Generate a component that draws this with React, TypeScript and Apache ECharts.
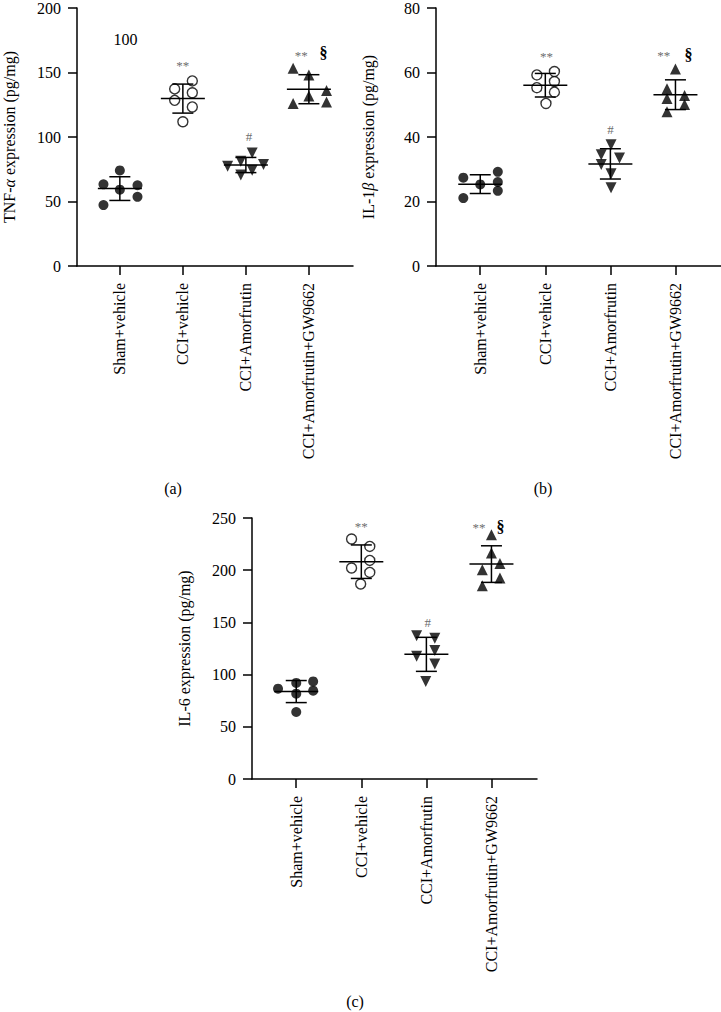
import React, { useEffect, useRef } from "react";
import * as echarts from "echarts";

const categories = ["Sham+vehicle", "CCI+vehicle", "CCI+Amorfrutin", "CCI+Amorfrutin+GW9662"];

// Panel (a) TNF-α: values and horizontal jitter (category units)
const tnfValues = [
  [74.1, 63.3, 59.2, 62.6, 53.6, 47.2],
  [143.5, 137.3, 134.3, 128.4, 123.3, 111.8],
  [87.6, 81.2, 78.7, 77.4, 74.3, 70.5],
  [153.2, 148.1, 136.1, 131.8, 125.9, 127.2],
];
const tnfJitter = [
  [0, -0.26, 0, 0.28, 0.28, -0.26],
  [0.15, -0.13, 0.15, -0.13, 0.15, 0],
  [0.1, -0.08, 0.28, -0.29, 0.1, -0.08],
  [-0.25, 0, 0.28, 0, -0.25, 0.28],
];
// Panel (b) IL-1β
const il1Values = [
  [27.4, 25.3, 29.2, 26.05, 23.3, 21.05],
  [59.25, 60.3, 55.3, 57.2, 53.9, 50.4],
  [37.6, 34.5, 33.5, 31.5, 28.6, 24.3],
  [61.1, 54.95, 52.9, 51.9, 50.05, 47.8],
];
const il1Jitter = [
  [-0.26, 0, 0.27, 0.27, 0.27, -0.26],
  [-0.13, 0.14, -0.13, 0.14, 0.14, 0.01],
  [0.01, -0.14, 0.14, -0.14, 0.01, 0.01],
  [0, -0.13, 0.14, -0.13, 0.14, -0.13],
];
// Panel (c) IL-6
const il6Values = [
  [86.5, 92, 93.5, 81.7, 84.6, 64.2],
  [229.9, 222.8, 209.4, 202.1, 197.9, 186.8],
  [137.3, 134.7, 123.2, 117.5, 110.2, 93.5],
  [234, 216.5, 206.3, 200.5, 192.6, 185.2],
];
const il6Jitter = [
  [-0.28, 0, 0.26, 0, 0.26, 0],
  [-0.15, 0.13, 0.13, -0.15, 0.13, -0.01],
  [-0.15, 0.13, 0.13, -0.15, 0.13, -0.01],
  [0, 0, 0.13, -0.14, 0.13, -0.14],
];

// Significance annotations: [x (category units), y (data units), text]
const tnfMarks: [number, number, string][] = [
  [0.09, 175.4, "100"],
  [1.0, 155.5, "**"],
  [2.05, 100.3, "#"],
  [2.88, 163.2, "**"],
  [3.23, 165.5, "§"],
];
const il1Marks: [number, number, string][] = [
  [1.02, 65, "**"],
  [2.0, 42.3, "#"],
  [2.82, 65.3, "**"],
  [3.2, 65.6, "§"],
];
const il6Marks: [number, number, string][] = [
  [1.0, 242, "**"],
  [2.02, 150, "#"],
  [2.81, 240.5, "**"],
  [3.14, 242, "§"],
];

const yMax = [200, 80, 250];
const yInterval = [50, 20, 50];
const panelLetters = ["(a)", "(b)", "(c)"];

const FONT = '"Liberation Serif", "Times New Roman", serif';

function mean(a: number[]) {
  return a.reduce((s, v) => s + v, 0) / a.length;
}
function sd(a: number[]) {
  const m = mean(a);
  return Math.sqrt(a.reduce((s, v) => s + (v - m) * (v - m), 0) / (a.length - 1));
}

export default function App() {
  const ref = useRef<HTMLDivElement>(null);

  useEffect(() => {
    document.body.style.margin = "0";
    if (!ref.current) return;
    const chart = echarts.init(ref.current, null, { renderer: "svg" });

    const panels = [
      { values: tnfValues, jitter: tnfJitter, marks: tnfMarks },
      { values: il1Values, jitter: il1Jitter, marks: il1Marks },
      { values: il6Values, jitter: il6Jitter, marks: il6Marks },
    ];
    const grids = [
      { left: 68, top: 5, width: 285, height: 261 },
      { left: 436, top: 5, width: 285, height: 261 },
      { left: 252, top: 518, width: 285, height: 261 },
    ];
    const yNames = [
      "{n|TNF-}{i|α}{n| expression (pg/mg)}",
      "{n|IL-1}{i|β}{n| expression (pg/mg)}",
      "{n|IL-6 expression (pg/mg)}",
    ];

    const symbolStyles = [
      { symbol: "circle", symbolSize: 10, symbolRotate: 0, itemStyle: { color: "#000" } },
      { symbol: "circle", symbolSize: 10, symbolRotate: 0, itemStyle: { color: "#fff", borderColor: "#000", borderWidth: 1.4 } },
      { symbol: "triangle", symbolSize: 11, symbolRotate: 180, itemStyle: { color: "#000" } },
      { symbol: "triangle", symbolSize: 11, symbolRotate: 0, itemStyle: { color: "#000" } },
    ];

    const xAxes: any[] = [];
    const yAxes: any[] = [];
    const series: any[] = [];

    panels.forEach((p, pi) => {
      xAxes.push({
        gridIndex: pi,
        type: "value",
        min: -0.68,
        max: 3.7,
        splitLine: { show: false },
        axisLine: { show: true, onZero: false, lineStyle: { color: "#000", width: 1.5 } },
        axisTick: { show: true, customValues: [0, 1, 2, 3], length: 9, lineStyle: { color: "#000", width: 1.5 } },
        axisLabel: {
          show: true,
          customValues: [0, 1, 2, 3],
          formatter: (v: number) => categories[Math.round(v)] ?? "",
          rotate: 90,
          margin: 17,
          color: "#000",
          fontSize: 16,
          fontFamily: FONT,
        },
      });
      yAxes.push({
        gridIndex: pi,
        type: "value",
        min: 0,
        max: yMax[pi],
        interval: yInterval[pi],
        splitLine: { show: false },
        axisLine: { show: true, onZero: false, lineStyle: { color: "#000", width: 1.5 } },
        axisTick: { show: true, length: 9, lineStyle: { color: "#000", width: 1.5 } },
        axisLabel: { color: "#000", fontSize: 16, fontFamily: FONT, margin: 16 },
        name: yNames[pi],
        nameLocation: "middle",
        nameGap: 60,
        nameTextStyle: {
          rich: {
            n: { fontSize: 16, fontFamily: FONT, color: "#000" },
            i: { fontSize: 16, fontFamily: FONT, color: "#000", fontStyle: "italic" },
          },
        },
      });

      p.values.forEach((vals, g) => {
        series.push({
          type: "scatter",
          xAxisIndex: pi,
          yAxisIndex: pi,
          symbol: symbolStyles[g].symbol,
          symbolSize: symbolStyles[g].symbolSize,
          symbolRotate: symbolStyles[g].symbolRotate,
          itemStyle: symbolStyles[g].itemStyle,
          data: vals.map((v, k) => [g + p.jitter[g][k], v]),
          z: 2,
          silent: true,
        });
      });

      series.push({
        type: "custom",
        xAxisIndex: pi,
        yAxisIndex: pi,
        z: 3,
        silent: true,
        data: p.values.map((vals, g) => [g, mean(vals), sd(vals)]),
        renderItem: (params: any, api: any) => {
          const x = api.value(0);
          const m = api.value(1);
          const s = api.value(2);
          const c = api.coord([x, m]);
          const t = api.coord([x, m + s]);
          const b = api.coord([x, m - s]);
          const st = { stroke: "#000", lineWidth: 1.5 };
          return {
            type: "group",
            children: [
              { type: "line", shape: { x1: c[0], y1: t[1], x2: c[0], y2: b[1] }, style: st },
              { type: "line", shape: { x1: c[0] - 22, y1: c[1], x2: c[0] + 22, y2: c[1] }, style: st },
              { type: "line", shape: { x1: c[0] - 10.5, y1: t[1], x2: c[0] + 10.5, y2: t[1] }, style: st },
              { type: "line", shape: { x1: c[0] - 10.5, y1: b[1], x2: c[0] + 10.5, y2: b[1] }, style: st },
            ],
          };
        },
      });

      const marks = p.marks;
      series.push({
        type: "custom",
        xAxisIndex: pi,
        yAxisIndex: pi,
        silent: true,
        z: 4,
        data: marks.map(([x, y]) => [x, y]),
        renderItem: (params: any, api: any) => {
          const t = marks[params.dataIndex][2];
          const c = api.coord([api.value(0), api.value(1)]);
          const gray = t === "**" || t === "#";
          return {
            type: "text",
            x: c[0],
            y: c[1],
            style: {
              text: t,
              fontFamily: FONT,
              fontSize: gray ? 13 : 16,
              fontWeight: t === "§" ? "bold" : "normal",
              fill: gray ? "#6e6e6e" : "#000",
              align: "center",
              verticalAlign: "middle",
            },
          };
        },
      });
    });

    const letterPos = [
      [173, 488],
      [543, 488],
      [355, 1001],
    ];

    chart.setOption({
      animation: false,
      backgroundColor: "#fff",
      tooltip: { show: false },
      grid: grids,
      xAxis: xAxes,
      yAxis: yAxes,
      series,
      graphic: panelLetters.map((txt, i) => ({
        type: "text",
        x: letterPos[i][0],
        y: letterPos[i][1],
        style: {
          text: txt,
          fontSize: 16,
          fontFamily: FONT,
          fill: "#000",
          align: "center",
          verticalAlign: "middle",
        },
      })),
    });

    return () => chart.dispose();
  }, []);

  return <div ref={ref} style={{ width: 721, height: 1012 }} />;
}
